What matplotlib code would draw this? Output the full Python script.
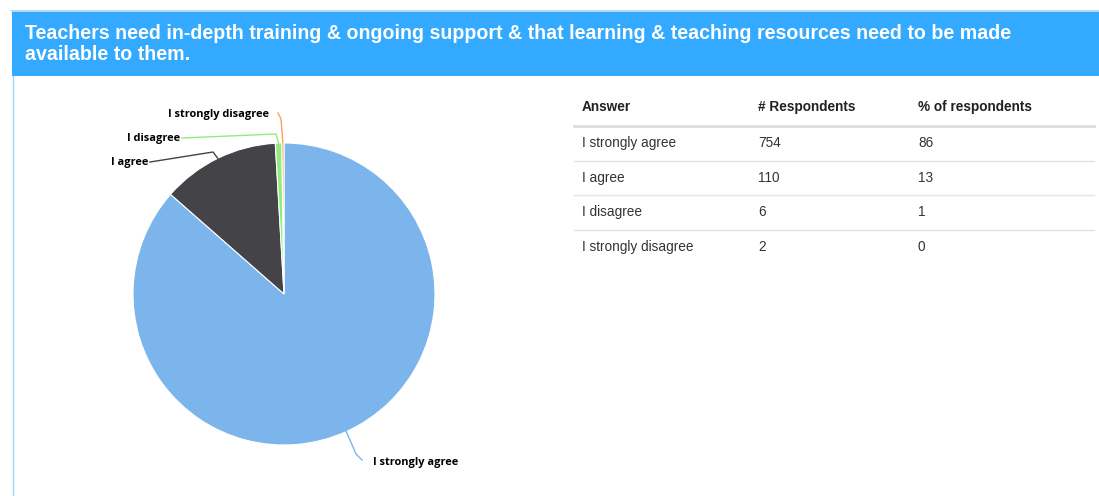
import matplotlib.pyplot as plt
from matplotlib.patches import Rectangle
from matplotlib.lines import Line2D
import numpy as np

# === data ===
title = ("Teachers need in-depth training & ongoing support & that learning & teaching resources need to be made\n"
         "available to them.")
answers = ["I strongly agree", "I agree", "I disagree", "I strongly disagree"]
respondents = [754, 110, 6, 2]
percent = [86, 13, 1, 0]
colors = ["#7cb5ec", "#434348", "#90ed7d", "#f7a35c"]
col_headers = ["Answer", "# Respondents", "% of respondents"]

W, H = 1099, 496
fig = plt.figure(figsize=(W / 100, H / 100), dpi=100)
fig.patch.set_facecolor("white")


def fx(x):
    return x / W


def fy(y):
    return 1 - y / H


# === header band ===
fig.add_artist(Rectangle((fx(12), fy(76)), fx(W - 12), 64 / H, transform=fig.transFigure,
                         facecolor="#33aaff", edgecolor="none"))
fig.add_artist(Line2D([fx(12), 1], [fy(11), fy(11)], transform=fig.transFigure,
                      color="#9fd3f7", lw=1.2))
fig.add_artist(Line2D([fx(12.5), fx(12.5)], [fy(76), 0], transform=fig.transFigure,
                      color="#9fd3f7", lw=1))
fig.text(fx(25), fy(44), title, color="white", fontsize=14.1, fontweight="bold",
         family="Liberation Sans", va="center", ha="left", linespacing=1.1)

# === pie ===
cx, cy, r = 284, 294, 151
ax = fig.add_axes([fx(cx - r), fy(cy + r), 2 * r / W, 2 * r / H])
wedges, _ = ax.pie(respondents, colors=colors, startangle=90, counterclock=False,
                   radius=1, wedgeprops=dict(edgecolor="white", linewidth=0.8))
ax.set_xlim(-1, 1)
ax.set_ylim(-1, 1)
ax.set_aspect("auto")
ax.axis("off")

# label positions (pixels) and elbow points for connectors
label_pos = [(373, 463), (148, 162), (180, 138), (269, 115)]
elbows = [(362, 460), (213, 152), (276, 134), (278, 113)]
lab_font = dict(fontsize=7.9, fontweight="bold", family="Open Sans", color="black")

for w, name, col, (lx, ly), (ex, ey) in zip(wedges, answers, colors, label_pos, elbows):
    mid = np.deg2rad((w.theta1 + w.theta2) / 2)
    sx = cx + r * np.cos(mid)
    sy = cy - r * np.sin(mid)
    if name == "I strongly agree":
        xs = [sx, ex - 6, ex]
        ys = [sy, ey - 6, ey]
        ha = "left"
    else:
        xs = [lx + 2, ex, sx]
        ys = [ly, ey, sy]
        ha = "right"
    if name == "I strongly disagree":
        xs = [ex, ex + 3, sx]
        ys = [ey, ey + 6, sy]
    fig.add_artist(Line2D([fx(x) for x in xs], [fy(y) for y in ys],
                          transform=fig.transFigure, color=col, lw=1))
    fig.text(fx(lx), fy(ly), name, ha=ha, va="center", **lab_font)

# === table ===
col_x = [582, 758, 918]
head_y = 107
row_y = [143, 178, 212, 247]
tab_font = dict(fontsize=9.8, family="Liberation Sans", color="#333333", va="center")

for x, h in zip(col_x, col_headers):
    fig.text(fx(x), fy(head_y), h, fontweight="bold", **{**tab_font, "color": "#222222"})
fig.add_artist(Line2D([fx(574), fx(1094)], [fy(126), fy(126)], transform=fig.transFigure,
                      color="#dddddd", lw=2))
for i, y in enumerate(row_y):
    fig.text(fx(col_x[0]), fy(y), answers[i], **tab_font)
    fig.text(fx(col_x[1]), fy(y), str(respondents[i]), **tab_font)
    fig.text(fx(col_x[2]), fy(y), str(percent[i]), **tab_font)
    if i < len(row_y) - 1:
        sep = (y + row_y[i + 1]) / 2
        fig.add_artist(Line2D([fx(574), fx(1094)], [fy(sep), fy(sep)], transform=fig.transFigure,
                              color="#e4e4e4", lw=1))

plt.savefig("out.png", dpi=100)
